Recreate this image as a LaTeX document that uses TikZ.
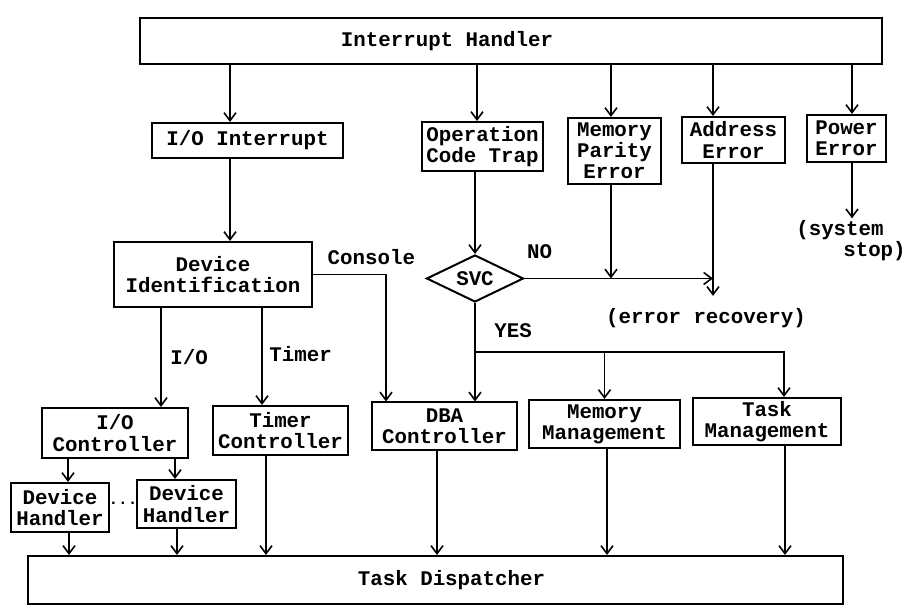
\documentclass[tikz,border=0pt]{standalone}
\usepackage{fontspec}
\setmonofont{Liberation Mono}
\usetikzlibrary{arrows.meta, shapes.geometric}

\begin{document}
\begin{tikzpicture}[x=0.5pt, y=-0.5pt,
  font=\ttfamily\bfseries\fontsize{10.4}{10.6}\selectfont,
  box/.style={draw, line width=1pt, inner sep=1pt, align=center},
  arr/.style={line width=0.8pt, -{Straight Barb[length=4pt,width=6pt]}}]

  \useasboundingbox (0,0) rectangle (907,608);

  % Top and bottom bars
  \node[box, minimum width=371pt, minimum height=23pt,
        label={[xshift=-32pt]center:Interrupt Handler}] (ih) at (511,41) {};
  \node[box, minimum width=407.5pt, minimum height=24pt,
        label={[xshift=8pt]center:Task Dispatcher}] (td) at (435.5,580) {};

  % Interrupt sources
  \node[box, minimum width=95.5pt, minimum height=17.5pt] (ioint) at (247.5,140.5) {I/O Interrupt};
  \node[box, minimum width=60.5pt, minimum height=24.5pt] (opc) at (482.5,146.5) {Operation\\Code Trap};
  \node[box, minimum width=46.5pt, minimum height=33pt] (mpe) at (614.5,151) {Memory\\Parity\\Error};
  \node[box, minimum width=51.5pt, minimum height=23pt] (ade) at (733.5,140) {Address\\Error};
  \node[box, minimum width=39.5pt, minimum height=23.5pt] (pwe) at (846.5,138.5) {Power\\Error};

  % Decisions
  \node[box, minimum width=99pt, minimum height=32.5pt] (devid) at (213,274.5) {Device\\Identification};
  \node[draw, diamond, line width=1pt, inner sep=0pt, aspect=2,
        minimum width=48.5pt, minimum height=23.5pt] (svc) at (475,278.5) {SVC};
  \node[inner sep=2pt] (err) at (706,318) {(error recovery)};
  \node[align=left, inner sep=0pt] (stop) at (851,241) {(system\\\hspace*{23.5pt}stop)};

  % Controllers and managers
  \node[box, minimum width=73pt, minimum height=25pt] (ioc) at (115,433) {I/O\\Controller};
  \node[box, minimum width=67.5pt, minimum height=24.5pt] (tc) at (280.5,430.5) {Timer\\Controller};
  \node[box, minimum width=72.5pt, minimum height=24pt] (dba) at (444.5,426.5) {DBA\\Controller};
  \node[box, minimum width=75.5pt, minimum height=24pt] (mm) at (604.5,424) {Memory\\Management};
  \node[box, minimum width=74pt, minimum height=23.5pt] (tm) at (767,421.5) {Task\\Management};

  % Device handlers
  \node[box, minimum width=49pt, minimum height=24.5pt] (dh1) at (60,507.5) {Device\\Handler};
  \node[box, minimum width=49.5pt, minimum height=24pt] (dh2) at (186.5,504) {Device\\Handler};
  \node[inner sep=0pt, font=\ttfamily\bfseries\fontsize{8}{8}\selectfont] (dots) at (123,503) {...};

  % Interrupt Handler to the sources
  \foreach \n/\s in {ioint/-8.75pt, opc/-2.75pt, mpe/-1.75pt, ade/-10.25pt, pwe/2.75pt}
    \draw[arr] ([xshift=\s]\n.north) coordinate (tmp) (tmp |- ih.south) -- (tmp);

  \coordinate (pIO) at ([xshift=-8.75pt]ioint.south);
  \draw[arr] (pIO) -- (pIO |- devid.north);
  \draw[arr] (svc.north |- opc.south) -- (svc.north);

  % Error paths
  \coordinate (pMP) at ([xshift=-1.75pt]mpe.south);
  \coordinate (pAD) at ([xshift=-10.25pt]ade.south);
  \draw[arr] (svc.east) -- node[pos=0.08, above=6pt] (no) {NO} (pAD |- svc.east);
  \draw[arr] (pMP) -- (pMP |- svc.east);
  \draw[arr] (pAD) -- ([yshift=4pt]pAD |- err.north);
  \coordinate (pPW) at ([xshift=2.75pt]pwe.south);
  \draw[arr] (pPW) -- ([yshift=1pt]pPW |- stop.north);

  % Device Identification branches
  \coordinate (pCon) at ([xshift=-29.25pt]dba.north);
  \draw[arr] (devid.east) -| node[pos=0.4, above=1pt] (con) {Console} (pCon);
  \coordinate (pIOC) at ([xshift=23pt]ioc.north);
  \draw[arr] (pIOC |- devid.south) -- node[pos=0.5, right=1pt] (io) {I/O} (pIOC);
  \coordinate (pTC) at ([xshift=-9.25pt]tc.north);
  \draw[arr] (pTC |- devid.south) -- node[pos=0.47, right=0pt] (tim) {Timer} (pTC);

  % SVC yes branch
  \coordinate (pDB) at ([xshift=15.25pt]dba.north);
  \coordinate (br) at (475,352);
  \draw[arr] (svc.south) -- node[pos=0.28, right=6pt] (yes) {YES} (pDB);
  \draw[arr] (br) -| (mm.north);
  \draw[arr] (br) -| ([xshift=8.5pt]tm.north);

  % I/O Controller to handlers
  \foreach \n/\s in {dh1/4pt, dh2/-5.75pt}
    \draw[arr] ([xshift=\s]\n.north) coordinate (tmp) (tmp |- ioc.south) -- (tmp);

  % Everything ends in the dispatcher
  \foreach \n/\s in {dh1/4.5pt, dh2/-4.75pt, tc/-7.25pt, dba/-3.75pt, mm/1.25pt, tm/9pt}
    \draw[arr] ([xshift=\s]\n.south) coordinate (tmp) -- (tmp |- td.north);
\end{tikzpicture}
\end{document}
